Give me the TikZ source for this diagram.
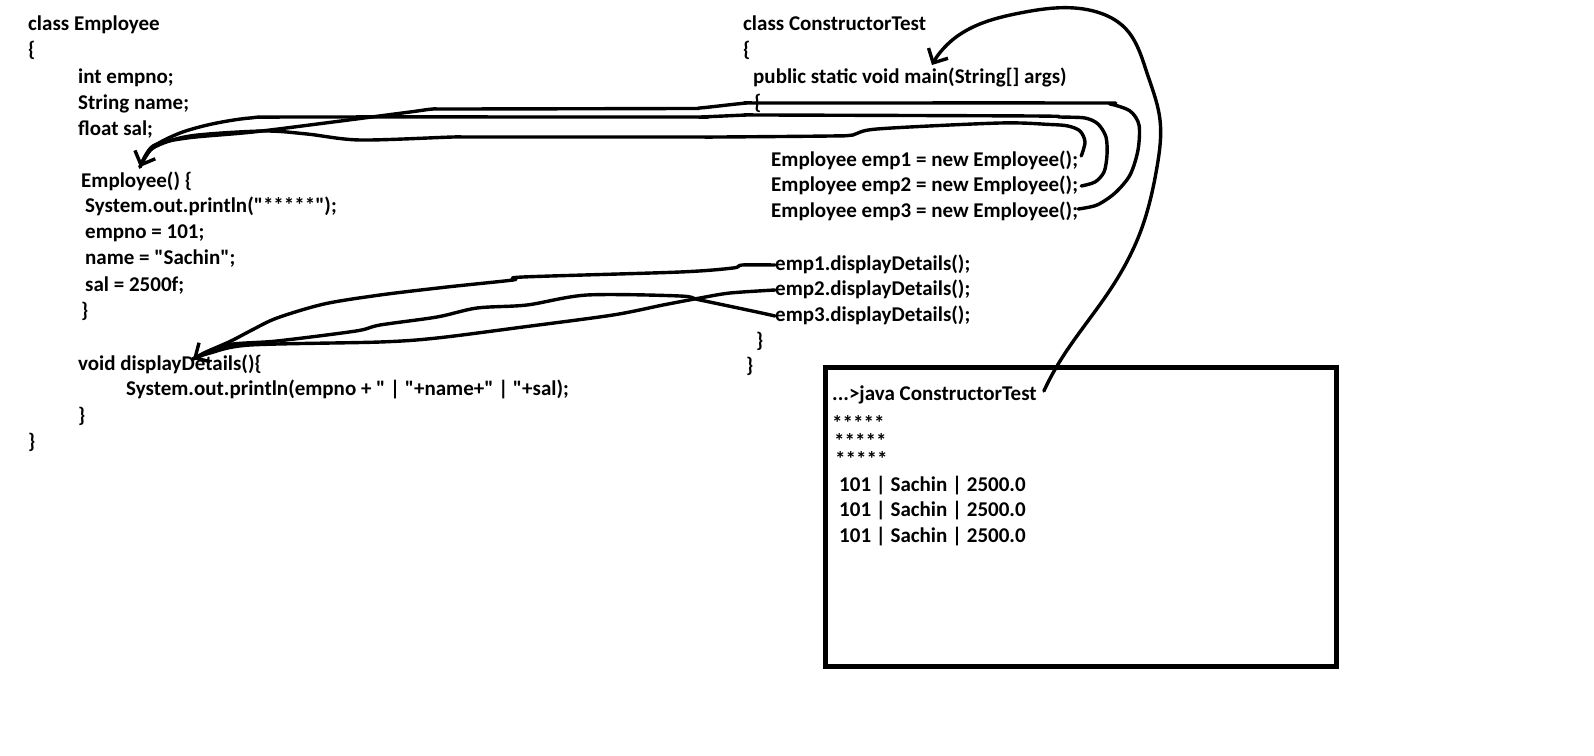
\documentclass[tikz,border=0pt]{standalone}
\usepackage{fontspec}
\setmainfont{Carlito}[Ligatures=TeXOff]
\usetikzlibrary{arrows.meta}
\usetikzlibrary{calc}
\usetikzlibrary{hobby}
\newcommand\codesize{\fontsize{21}{25}\selectfont\bfseries}

\begin{document}
\begin{tikzpicture}[x=1pt,y=-1pt]
  \tikzset{code/.style={anchor=west, inner sep=0pt, text height=14pt, text depth=4pt, font=\codesize}}
  \tikzset{call/.style={draw, line width=3.4pt, line cap=round, line join=round}}
  \tikzset{callarrow/.style={call, ->, >={Straight Barb[length=11pt,width=22pt]}}}

  \fill[white] (0,0) rectangle (1594,755);
  \useasboundingbox (0,0) rectangle (1594,755);

  % class Employee
  \node[code] (emp) at (28,25) {class Employee};
  \node[code] (empopen) at (28,51) {\{};
  \node[code] (fno) at (78,78) {int empno;};
  \node[code] (fname) at (78,104) {String name;};
  \node[code] (fsal) at (78,130) {float sal;};
  \node[code] (ctor) at (81,182) {Employee() \{};
  \node[code] (c1) at (85,207) {System.out.println("*****");};
  \node[code] (c2) at (85,233) {empno = 101;};
  \node[code] (c3) at (85,259) {name = "Sachin";};
  \node[code] (c4) at (85,286) {sal = 2500f;};
  \node[code] (ctorclose) at (81,312) {\}};
  \node[code] (show) at (78,365) {void displayDetails()\{};
  \node[code] (s1) at (126,390) {System.out.println(empno + " | "+name+" | "+sal);};
  \node[code] (showclose) at (78,417) {\}};
  \node[code] (empclose) at (28,443) {\}};

  % class ConstructorTest
  \node[code] (test) at (743,25) {class ConstructorTest};
  \node[code] (testopen) at (743,51) {\{};
  \node[code] (main) at (753,78) {public static void main(String[] args)};
  \node[code] (mainopen) at (754,104) {\{};
  \foreach \i/\y in {1/161,2/186,3/212}
    \node[code] (new\i) at (771,\y) {Employee emp\i{} = new Employee();};
  \foreach \i/\y in {1/265,2/290,3/316}
    \node[code] (disp\i) at (775,\y) {emp\i.displayDetails();};
  \node[code] (mainclose) at (756,342) {\}};
  \node[code] (testclose) at (746,367) {\}};

  % console
  \node[draw, line width=4.5pt, anchor=north west, inner sep=0pt,
        minimum width=511pt, minimum height=299pt] (console) at (823,365) {};
  \node[code] (run) at (832,395) {...>java ConstructorTest};
  \node[code] (star1) at (832,425) {*****};
  \node[code] (star2) at (834,443) {*****};
  \node[code] (star3) at (835,461) {*****};
  \foreach \y [count=\i] in {486,511,537}
    \node[code] (out\i) at (839,\y) {101 | Sachin | 2500.0};

  \coordinate (mainTip) at (932,65);
  \coordinate (ctorTip) at (140,167);
  \coordinate (showTip) at (193,359);

  % java ConstructorTest -> main
  \draw[callarrow, use Hobby shortcut] ($(run.east)+(7,-4)$) .. (1057,366) .. (1110,290)
    .. (1140,233) .. (1157,167) .. (1160,120) .. (1147,73) .. (1125,28) .. (1097,12)
    .. (1020,13) .. (973,27) .. (950,42) .. (mainTip);

  % new Employee() -> constructor
  \draw[callarrow] plot[smooth, tension=0.5] coordinates {($(new1.east)+(3,-5)$)
    (1085,142) (1080,131) (1068,126) (1050,124.5) (1000,123) (877,129) (853,135)
    (830,136) (720,137) (700,137) (680,137) (475,137) (453,137) (360,140) (307,134)
    (263,131) (190,136) (153,148) (ctorTip)};
  \draw[call] plot[smooth, tension=0.5] coordinates {($(new2.east)+(3,0)$)
    (1095,182) (1104,172) (1107,155) (1106,137) (1098,124) (1085,118) (1060,117)
    (1033,116) (765,115) (747,115) (700,117) (680,117) (300,117) (250,118) (212,124)
    (180,133) (153,147) (ctorTip)};
  \draw[call] plot[smooth, tension=0.5] coordinates {($(new3.east)+(0,-3)$)
    (1097,205) (1115,193) (1130,175) (1138,150) (1139,125) (1130,111) (1110,104)
    (1090,103) (770,103) (747,103) (700,108) (680,108.5) (455,109) (433,109) (410,112)
    (333,122) (253,132) (187,138) (153,146) (ctorTip)};

  % displayDetails() calls
  \draw[callarrow] plot[smooth, tension=0.5] coordinates {(disp1.west)
    (742,265) (733,268) (680,272) (523,277) (513,280) (447,287) (380,295) (324,304)
    (277,318) (252,330) (231,341) (206,352) (showTip)};
  \draw[call] plot[smooth, tension=0.5] coordinates {(disp2.west)
    (730,293) (700,298) (663,305) (613,315) (523,327) (437,338) (380,342) (250,345)
    (210,353) (showTip)};
  \draw[call] plot[smooth, tension=0.5] coordinates {(disp3.west)
    (757,312) (700,300) (680,296) (587,295) (527,305) (477,308) (437,317) (380,325)
    (356,331) (277,341) (227,345) (showTip)};

\end{tikzpicture}
\end{document}
